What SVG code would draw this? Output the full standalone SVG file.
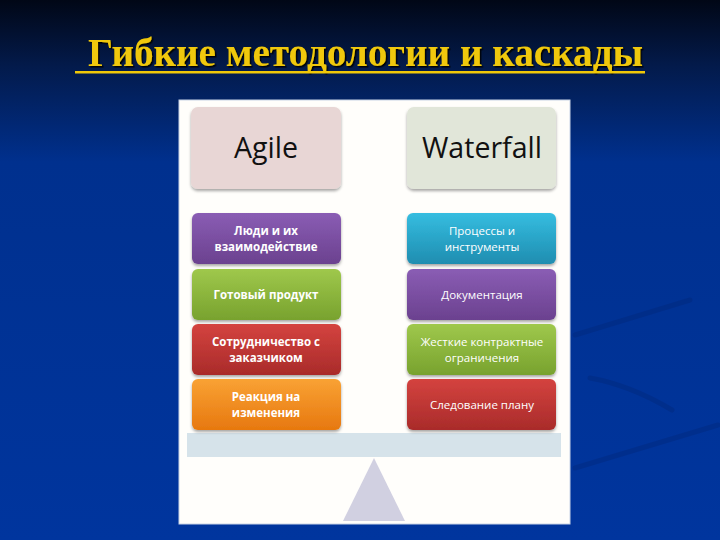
<svg xmlns="http://www.w3.org/2000/svg" width="720" height="540" viewBox="0 0 720 540">
<defs>
<linearGradient id="bg" x1="0" y1="0" x2="0" y2="1">
<stop offset="0" stop-color="#010716"/>
<stop offset="0.12" stop-color="#031a4a"/>
<stop offset="0.3" stop-color="#00308e"/>
<stop offset="1" stop-color="#00359e"/>
</linearGradient>
<linearGradient id="gPurple" x1="0" y1="0" x2="0" y2="1"><stop offset="0" stop-color="#8a5db4"/><stop offset="1" stop-color="#6b418f"/></linearGradient>
<linearGradient id="gGreen" x1="0" y1="0" x2="0" y2="1"><stop offset="0" stop-color="#9fc84c"/><stop offset="1" stop-color="#78a22e"/></linearGradient>
<linearGradient id="gRed" x1="0" y1="0" x2="0" y2="1"><stop offset="0" stop-color="#d4433f"/><stop offset="1" stop-color="#a92b2a"/></linearGradient>
<linearGradient id="gOrange" x1="0" y1="0" x2="0" y2="1"><stop offset="0" stop-color="#f9a234"/><stop offset="1" stop-color="#e7780f"/></linearGradient>
<linearGradient id="gCyan" x1="0" y1="0" x2="0" y2="1"><stop offset="0" stop-color="#35bde0"/><stop offset="1" stop-color="#1f8db0"/></linearGradient>
<filter id="sh" x="-10%" y="-10%" width="120%" height="130%"><feDropShadow dx="0" dy="2" stdDeviation="1.5" flood-color="#000" flood-opacity="0.35"/></filter>
<filter id="tsh" x="-5%" y="-20%" width="110%" height="150%"><feDropShadow dx="1.5" dy="1.5" stdDeviation="0.6" flood-color="#000" flood-opacity="0.9"/></filter>
</defs>
<style>
.hdr{font-family:"Open Sans","Noto Sans",sans-serif;font-size:29px;fill:#111;text-anchor:middle}
.lbl{font-family:"Open Sans","Noto Sans",sans-serif;font-size:11.5px;font-weight:bold;fill:#fff;text-anchor:middle}
.lblr{font-family:"Open Sans","Noto Sans",sans-serif;font-size:11.5px;fill:#fff;text-anchor:middle}
.box{filter:url(#sh)}
</style>
<rect x="0" y="0" width="720" height="540" fill="url(#bg)"/>
<g stroke="#00236f" stroke-width="5" fill="none" opacity="0.3" stroke-linecap="round">
<path d="M575 335 L690 300"/>
<path d="M590 378 Q630 385 672 410"/>
<path d="M575 468 L718 425"/>
</g>
<g id="title">
<text x="88" y="66" font-family="'Liberation Serif',serif" font-size="40" font-weight="bold" fill="#f0c808" textLength="555" lengthAdjust="spacingAndGlyphs" filter="url(#tsh)">Гибкие методологии и каскады</text>
<rect x="75" y="71" width="570" height="2.5" fill="#f0c808"/>
</g>
<rect x="179" y="100" width="391" height="424" fill="#fffefb" stroke="#c9d4e6" stroke-width="1"/>
<g id="beam"><rect x="187" y="433" width="374" height="24" fill="#d6e3ea"/></g>
<g id="fulcrum"><polygon points="374,458 405,521 343,521" fill="#d1d0e1"/></g>
<g id="agile"><rect class="box" x="191" y="107" width="150" height="82" rx="7" fill="#e8d6d5"/><text class="hdr" x="266" y="158" textLength="64" lengthAdjust="spacingAndGlyphs">Agile</text></g>
<g id="waterfall"><rect class="box" x="407" y="107" width="149" height="82" rx="7" fill="#e1e6d9"/><text class="hdr" x="482" y="158" textLength="120" lengthAdjust="spacingAndGlyphs">Waterfall</text></g>
<g id="a1"><rect class="box" x="192" y="213" width="149" height="51" rx="6" fill="url(#gPurple)"/><text class="lbl" x="266" y="235">Люди и их</text><text class="lbl" x="266" y="251">взаимодействие</text></g>
<g id="a2"><rect class="box" x="192" y="269" width="149" height="51" rx="6" fill="url(#gGreen)"/><text class="lbl" x="266" y="299">Готовый продукт</text></g>
<g id="a3"><rect class="box" x="192" y="324" width="149" height="51" rx="6" fill="url(#gRed)"/><text class="lbl" x="266" y="346">Сотрудничество с</text><text class="lbl" x="266" y="362">заказчиком</text></g>
<g id="a4"><rect class="box" x="192" y="379" width="149" height="51" rx="6" fill="url(#gOrange)"/><text class="lbl" x="266" y="401">Реакция на</text><text class="lbl" x="266" y="417">изменения</text></g>
<g id="w1"><rect class="box" x="407" y="213" width="149" height="51" rx="6" fill="url(#gCyan)"/><text class="lblr" x="482" y="235">Процессы и</text><text class="lblr" x="482" y="251">инструменты</text></g>
<g id="w2"><rect class="box" x="407" y="269" width="149" height="51" rx="6" fill="url(#gPurple)"/><text class="lblr" x="482" y="299">Документация</text></g>
<g id="w3"><rect class="box" x="407" y="324" width="149" height="51" rx="6" fill="url(#gGreen)"/><text class="lblr" x="482" y="346">Жесткие контрактные</text><text class="lblr" x="482" y="362">ограничения</text></g>
<g id="w4"><rect class="box" x="407" y="379" width="149" height="51" rx="6" fill="url(#gRed)"/><text class="lblr" x="482" y="409">Следование плану</text></g>
<g id="connectors"/>
</svg>
